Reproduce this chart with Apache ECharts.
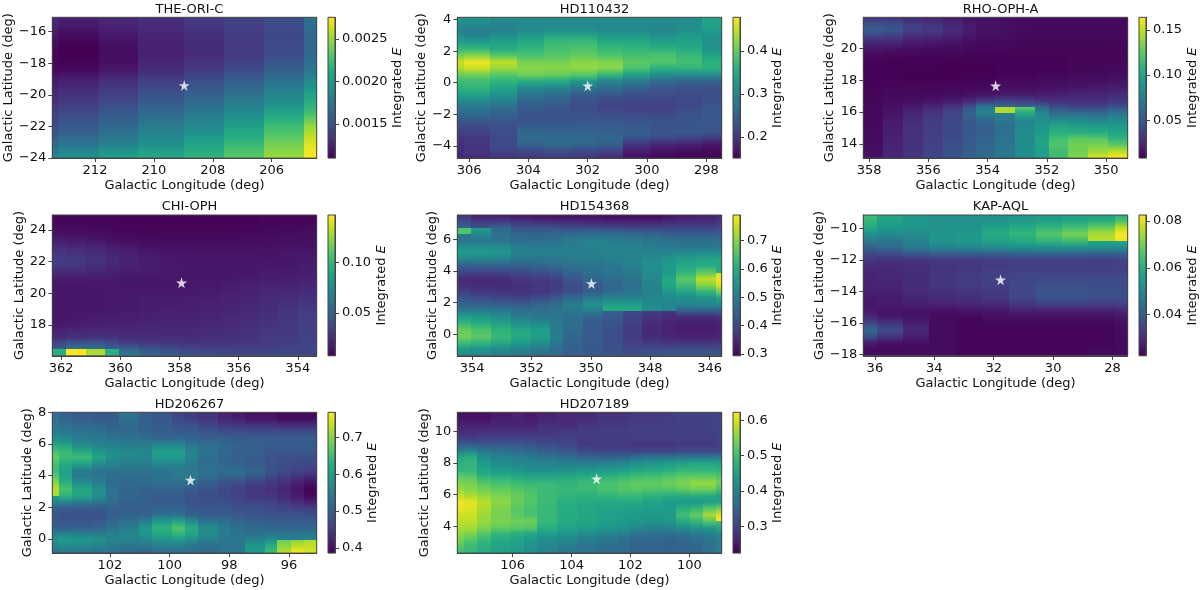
<!DOCTYPE html>
<html>
<head>
<meta charset="utf-8">
<style>html,body{margin:0;padding:0;background:#fff}#chart{width:1200px;height:590px}</style>
<script src="https://cdn.jsdelivr.net/npm/echarts@6/dist/echarts.min.js"></script>
</head>
<body>
<div id="chart"></div>
<script>
// Integrated E maps around eight stars. Rows run from the top latitude downward,
// columns from the left longitude (largest) to the right.
const theOriCLonEdges = [213.45,213.21,211.86,210.53,208.97,207.61,206.26,204.90,204.47];
const theOriCValues = [
[.00130,.00124,.00128,.00132,.00137,.00142,.00149,.00170],
[.00125,.00120,.00125,.00130,.00135,.00140,.00147,.00168],
[.00120,.00116,.00122,.00128,.00133,.00139,.00146,.00166],
[.00116,.00112,.00119,.00126,.00131,.00138,.00146,.00165],
[.00113,.00110,.00117,.00125,.00130,.00138,.00147,.00165],
[.00112,.00110,.00116,.00125,.00130,.00138,.00148,.00166],
[.00112,.00110,.00116,.00126,.00132,.00140,.00150,.00168],
[.00113,.00112,.00118,.00129,.00136,.00144,.00156,.00172],
[.00116,.00116,.00121,.00132,.00140,.00150,.00162,.00178],
[.00120,.00122,.00130,.00138,.00146,.00156,.00168,.00185],
[.00124,.00128,.00135,.00144,.00152,.00162,.00176,.00193],
[.00128,.00132,.00139,.00149,.00158,.00168,.00182,.00200],
[.00132,.00136,.00144,.00154,.00163,.00174,.00188,.00210],
[.00136,.00140,.00148,.00159,.00168,.00180,.00195,.00215],
[.00140,.00145,.00153,.00164,.00174,.00186,.00202,.00220],
[.00144,.00150,.00158,.00169,.00180,.00194,.00210,.00230],
[.00148,.00154,.00163,.00175,.00185,.00200,.00220,.00245],
[.00152,.00159,.00168,.00180,.00190,.00206,.00226,.00252],
[.00157,.00164,.00173,.00186,.00198,.00212,.00232,.00260],
[.00164,.00172,.00180,.00191,.00203,.00218,.00238,.00266],
[.00172,.00180,.00188,.00197,.00210,.00226,.00244,.00270],
[.00186,.00194,.00204,.00210,.00218,.00232,.00250,.00275]];

const hd110432LonEdges = [306.40,306.18,305.28,304.38,303.48,302.60,301.70,300.80,299.91,299.03,298.13,297.48];
const hd110432Values = [
[.32,.32,.31,.31,.31,.31,.31,.31,.31,.31,.34],
[.30,.30,.29,.30,.30,.30,.30,.30,.30,.31,.34],
[.29,.28,.29,.31,.32,.32,.31,.31,.30,.32,.32],
[.33,.32,.34,.35,.37,.37,.35,.35,.33,.34,.32],
[.35,.35,.34,.36,.375,.38,.36,.36,.35,.34,.31],
[.385,.385,.36,.37,.385,.39,.38,.37,.37,.36,.33],
[.44,.46,.43,.40,.40,.41,.40,.39,.40,.38,.35],
[.46,.478,.46,.42,.42,.43,.43,.40,.38,.38,.37],
[.42,.43,.40,.42,.42,.42,.41,.37,.34,.35,.35],
[.38,.38,.38,.39,.38,.36,.32,.30,.28,.27,.27],
[.37,.37,.35,.32,.32,.30,.28,.27,.25,.24,.235],
[.35,.36,.33,.29,.28,.26,.25,.235,.23,.225,.225],
[.32,.32,.31,.27,.26,.24,.235,.225,.225,.225,.23],
[.29,.29,.28,.25,.24,.225,.215,.215,.215,.22,.235],
[.27,.27,.26,.24,.235,.23,.215,.215,.215,.23,.24],
[.25,.26,.25,.235,.235,.235,.235,.23,.23,.235,.24],
[.23,.23,.23,.235,.235,.24,.24,.24,.235,.235,.24],
[.215,.22,.23,.255,.25,.25,.25,.245,.235,.24,.24],
[.205,.21,.225,.265,.26,.26,.255,.25,.24,.235,.225],
[.19,.195,.22,.26,.27,.265,.26,.21,.195,.185,.175],
[.20,.21,.23,.24,.245,.24,.235,.185,.175,.17,.165],
[.18,.19,.195,.20,.205,.20,.19,.165,.155,.151,.151]];

const rhoOphALonEdges = [358.20,357.52,356.85,356.19,355.52,354.84,354.40,353.74,353.06,352.39,351.94,351.27,350.60,349.94,349.27];
const rhoOphAValues = [
[.03,.03,.025,.022,.018,.015,.014,.014,.012,.012,.012,.012,.012,.012],
[.062,.058,.045,.04,.03,.022,.016,.015,.013,.012,.012,.012,.012,.012],
[.045,.04,.032,.03,.024,.018,.015,.014,.012,.011,.011,.011,.011,.011],
[.028,.028,.022,.02,.018,.015,.013,.012,.011,.011,.011,.011,.011,.011],
[.02,.018,.016,.015,.014,.012,.011,.011,.01,.01,.01,.01,.01,.01],
[.013,.012,.011,.011,.011,.01,.01,.01,.01,.01,.01,.01,.01,.01],
[.01,.009,.009,.009,.009,.009,.009,.009,.009,.009,.009,.01,.01,.01],
[.009,.009,.009,.009,.008,.008,.008,.009,.009,.009,.009,.01,.01,.011],
[.009,.009,.008,.008,.008,.008,.008,.009,.009,.01,.01,.011,.011,.012],
[.009,.009,.008,.008,.008,.009,.009,.01,.01,.011,.012,.013,.013,.014],
[.009,.01,.01,.01,.01,.01,.01,.012,.012,.013,.014,.015,.016,.017],
[.01,.011,.011,.011,.012,.012,.014,.016,.016,.017,.018,.02,.022,.023],
[.01,.012,.012,.013,.014,.016,.018,.02,.02,.022,.024,.026,.026,.03],
[.011,.014,.016,.02,.024,.034,.05,.06,.055,.04,.035,.03,.03,.035],
[.011,.016,.022,.03,.04,.06,.09,.145,.125,.08,.055,.05,.05,.06],
[.012,.018,.026,.034,.042,.055,.065,.075,.08,.08,.07,.075,.07,.075],
[.012,.02,.028,.036,.042,.05,.056,.065,.08,.09,.095,.09,.085,.09],
[.012,.02,.03,.036,.042,.05,.055,.065,.08,.09,.105,.1,.1,.095],
[.012,.022,.03,.037,.043,.05,.056,.066,.085,.095,.11,.115,.112,.105],
[.013,.022,.03,.037,.045,.052,.058,.068,.085,.10,.125,.135,.135,.115],
[.014,.023,.03,.038,.047,.054,.06,.07,.085,.095,.115,.125,.13,.135],
[.015,.025,.032,.04,.048,.055,.062,.07,.085,.095,.115,.135,.155,.164]];

const chiOphLonEdges = [362.30,361.85,361.17,360.51,360.03,359.36,358.69,358.02,357.34,356.67,356.00,355.32,354.65,353.98,353.36];
const chiOphValues = [
[.009,.009,.009,.009,.008,.008,.008,.008,.008,.008,.008,.009,.009,.009],
[.010,.010,.009,.009,.008,.008,.008,.008,.008,.008,.008,.009,.009,.010],
[.012,.012,.011,.010,.009,.009,.009,.009,.009,.009,.010,.010,.011,.012],
[.016,.015,.014,.012,.011,.010,.010,.010,.010,.010,.011,.012,.012,.013],
[.022,.020,.018,.016,.014,.013,.012,.012,.012,.012,.012,.013,.014,.014],
[.028,.026,.024,.020,.018,.016,.014,.014,.014,.014,.014,.014,.015,.015],
[.032,.030,.028,.024,.021,.018,.016,.016,.015,.015,.015,.015,.016,.016],
[.032,.031,.028,.024,.021,.019,.017,.016,.016,.016,.016,.016,.016,.017],
[.027,.026,.024,.021,.019,.018,.017,.017,.016,.016,.016,.017,.017,.018],
[.020,.020,.019,.018,.017,.017,.016,.016,.016,.016,.017,.018,.018,.019],
[.016,.016,.016,.016,.016,.016,.016,.016,.016,.017,.018,.019,.020,.021],
[.016,.016,.016,.016,.016,.016,.016,.016,.017,.018,.020,.022,.022,.024],
[.017,.017,.017,.017,.017,.017,.017,.018,.018,.019,.021,.023,.024,.026],
[.016,.016,.016,.017,.017,.018,.018,.019,.019,.020,.022,.024,.026,.028],
[.015,.016,.016,.017,.017,.018,.019,.019,.020,.021,.023,.025,.028,.030],
[.015,.016,.017,.017,.018,.019,.020,.020,.021,.022,.024,.026,.029,.032],
[.016,.017,.018,.019,.019,.020,.021,.021,.022,.023,.025,.027,.030,.033],
[.018,.019,.020,.021,.021,.022,.022,.022,.023,.024,.026,.028,.030,.033],
[.022,.024,.025,.025,.024,.024,.024,.024,.025,.026,.028,.030,.031,.034],
[.026,.028,.028,.027,.026,.026,.026,.026,.026,.027,.029,.031,.032,.034],
[.048,.060,.060,.050,.038,.034,.031,.030,.030,.030,.031,.032,.033,.035],
[.095,.147,.130,.095,.065,.055,.050,.043,.040,.038,.037,.037,.037,.037]];

const hd154368LonEdges = [354.50,354.05,353.38,352.70,352.03,351.38,350.93,350.26,349.58,348.91,348.26,347.59,347.14,346.46,345.79,345.59];
const hd154368Values = [
[.36,.33,.33,.32,.31,.31,.31,.31,.30,.30,.30,.32,.33,.34,.36],
[.45,.42,.42,.40,.40,.39,.38,.37,.37,.37,.37,.37,.37,.37,.38],
[.65,.58,.49,.44,.44,.44,.44,.44,.44,.43,.43,.42,.42,.42,.42],
[.48,.47,.46,.46,.46,.47,.49,.50,.50,.49,.47,.46,.46,.46,.46],
[.50,.50,.50,.49,.48,.49,.50,.52,.51,.51,.50,.49,.48,.48,.49],
[.58,.58,.57,.52,.51,.51,.51,.51,.51,.51,.50,.50,.50,.50,.50],
[.56,.55,.54,.50,.50,.50,.50,.50,.51,.51,.52,.54,.56,.57,.58],
[.46,.47,.47,.47,.47,.48,.49,.49,.50,.52,.55,.57,.59,.60,.59],
[.42,.42,.42,.42,.43,.44,.46,.47,.48,.50,.53,.55,.59,.60,.60],
[.36,.35,.36,.38,.39,.40,.44,.47,.48,.49,.53,.58,.65,.74,.76],
[.35,.35,.35,.36,.37,.38,.41,.44,.46,.48,.52,.60,.67,.74,.789],
[.37,.36,.36,.36,.37,.38,.41,.43,.45,.47,.51,.57,.60,.66,.73],
[.41,.39,.38,.37,.38,.40,.42,.45,.48,.49,.52,.54,.56,.57,.62],
[.44,.43,.42,.42,.44,.46,.50,.54,.55,.55,.52,.52,.52,.53,.54],
[.47,.47,.47,.46,.47,.48,.51,.55,.60,.59,.54,.52,.51,.51,.51],
[.54,.54,.52,.49,.48,.48,.47,.45,.44,.40,.38,.37,.37,.37,.37],
[.60,.58,.56,.52,.50,.49,.47,.44,.42,.39,.36,.34,.34,.34,.35],
[.65,.63,.60,.57,.56,.50,.47,.44,.42,.38,.35,.34,.33,.33,.34],
[.70,.67,.63,.60,.58,.50,.46,.43,.41,.38,.35,.34,.33,.33,.34],
[.66,.65,.62,.59,.56,.50,.45,.43,.41,.38,.36,.35,.35,.35,.35],
[.60,.58,.56,.54,.52,.48,.45,.43,.41,.39,.39,.39,.39,.39,.39],
[.53,.52,.50,.49,.47,.46,.44,.43,.42,.41,.42,.43,.43,.43,.42]];

const kapAqlLonEdges = [36.39,35.94,35.06,34.17,33.27,32.38,31.48,30.59,29.70,28.82,27.92,27.49];
const kapAqlValues = [
[.064,.058,.055,.053,.053,.053,.054,.055,.056,.057,.060],
[.060,.056,.054,.053,.053,.054,.056,.058,.060,.063,.071],
[.056,.054,.053,.053,.054,.059,.062,.066,.069,.074,.0826],
[.050,.048,.050,.054,.056,.059,.062,.067,.071,.076,.081],
[.044,.044,.048,.052,.053,.054,.055,.056,.056,.057,.058],
[.038,.042,.046,.048,.048,.049,.050,.050,.050,.050,.048],
[.033,.032,.033,.034,.034,.034,.035,.035,.035,.034,.035],
[.031,.030,.030,.031,.031,.032,.033,.033,.033,.033,.034],
[.029,.029,.030,.031,.032,.033,.034,.034,.034,.034,.034],
[.028,.029,.030,.032,.033,.034,.035,.035,.035,.035,.035],
[.028,.029,.030,.032,.033,.034,.035,.036,.036,.036,.036],
[.028,.028,.030,.031,.032,.033,.036,.038,.038,.037,.037],
[.027,.027,.029,.030,.031,.032,.035,.038,.038,.037,.037],
[.026,.027,.028,.029,.030,.031,.034,.037,.037,.036,.036],
[.026,.026,.026,.026,.027,.027,.029,.029,.029,.029,.030],
[.027,.025,.025,.024,.024,.025,.026,.026,.026,.026,.027],
[.031,.028,.026,.024,.023,.024,.024,.024,.024,.024,.025],
[.041,.036,.029,.024,.023,.023,.023,.023,.023,.023,.024],
[.043,.036,.029,.024,.023,.023,.023,.023,.023,.023,.024],
[.030,.026,.025,.024,.023,.023,.023,.023,.023,.023,.024],
[.024,.024,.024,.024,.023,.023,.023,.023,.023,.023,.024],
[.024,.024,.024,.024,.023,.023,.023,.023,.023,.024,.024]];

const hd206267LonEdges = [103.93,103.71,103.26,102.59,102.14,101.71,101.04,100.59,99.92,99.48,99.05,98.38,97.93,97.48,96.81,96.39,95.94,95.49,95.07];
const hd206267Values = [
[.53,.50,.49,.49,.49,.53,.50,.49,.46,.45,.44,.42,.41,.40,.40,.39,.39,.39],
[.53,.52,.51,.50,.50,.52,.50,.49,.48,.47,.45,.43,.43,.42,.42,.41,.41,.41],
[.54,.53,.52,.52,.51,.51,.50,.50,.49,.49,.48,.47,.46,.46,.46,.46,.46,.46],
[.56,.55,.53,.53,.52,.52,.51,.50,.50,.50,.49,.49,.49,.49,.49,.49,.49,.49],
[.58,.58,.56,.55,.54,.53,.53,.52,.52,.51,.51,.51,.50,.50,.50,.50,.50,.50],
[.63,.62,.57,.55,.56,.56,.56,.59,.59,.55,.53,.52,.51,.50,.49,.49,.49,.49],
[.68,.66,.65,.62,.58,.57,.56,.61,.61,.56,.53,.51,.50,.50,.49,.49,.49,.49],
[.67,.63,.64,.60,.57,.56,.56,.58,.58,.55,.52,.51,.50,.49,.48,.47,.47,.47],
[.64,.61,.57,.54,.54,.54,.54,.54,.54,.53,.52,.51,.51,.50,.49,.48,.47,.47],
[.65,.60,.53,.52,.52,.52,.52,.53,.54,.54,.53,.53,.53,.52,.48,.47,.46,.45],
[.68,.61,.55,.54,.52,.52,.52,.53,.54,.54,.51,.49,.49,.47,.46,.44,.43,.42],
[.73,.65,.59,.56,.52,.51,.51,.51,.51,.50,.49,.47,.46,.45,.44,.43,.41,.39],
[.72,.66,.64,.59,.53,.51,.50,.50,.50,.49,.48,.47,.46,.45,.44,.42,.41,.39],
[.60,.60,.58,.56,.53,.51,.50,.49,.49,.48,.47,.47,.46,.45,.45,.44,.42,.40],
[.52,.52,.51,.51,.51,.50,.50,.50,.50,.49,.49,.49,.48,.48,.47,.46,.45,.44],
[.49,.48,.48,.48,.50,.50,.50,.51,.51,.49,.49,.49,.48,.48,.47,.47,.47,.47],
[.49,.48,.48,.48,.50,.51,.51,.55,.55,.52,.50,.50,.50,.49,.49,.49,.49,.49],
[.49,.49,.49,.50,.52,.54,.58,.63,.66,.62,.56,.54,.52,.51,.50,.50,.50,.50],
[.52,.52,.52,.52,.54,.56,.60,.63,.66,.62,.58,.55,.53,.52,.52,.52,.52,.52],
[.58,.59,.58,.57,.56,.56,.57,.60,.61,.60,.56,.54,.53,.53,.54,.55,.55,.56],
[.58,.60,.60,.58,.56,.55,.55,.56,.57,.54,.54,.53,.54,.59,.61,.68,.70,.72],
[.52,.53,.52,.52,.52,.51,.51,.52,.52,.52,.51,.53,.53,.59,.65,.73,.768,.75]];

const hd207189LonEdges = [107.88,107.65,107.20,106.75,106.07,105.62,105.17,104.51,103.83,103.15,102.47,102.02,101.57,100.89,100.44,99.98,99.55,99.10,98.90];
const hd207189Values = [
[.24,.24,.24,.25,.26,.25,.26,.27,.27,.28,.28,.29,.29,.29,.30,.30,.30,.30],
[.25,.25,.25,.26,.26,.26,.27,.27,.28,.29,.29,.29,.29,.30,.30,.30,.30,.31],
[.27,.27,.27,.27,.27,.27,.28,.28,.29,.29,.29,.30,.30,.30,.30,.30,.30,.30],
[.28,.28,.29,.29,.29,.29,.29,.30,.30,.30,.30,.30,.30,.30,.30,.30,.30,.31],
[.31,.31,.31,.31,.31,.31,.31,.30,.29,.29,.29,.29,.29,.29,.29,.29,.29,.30],
[.36,.36,.35,.35,.35,.34,.32,.31,.29,.29,.29,.28,.28,.28,.29,.29,.29,.29],
[.43,.45,.41,.39,.38,.37,.36,.35,.33,.32,.32,.33,.33,.33,.33,.33,.33,.33],
[.49,.50,.43,.41,.40,.40,.39,.38,.37,.38,.38,.40,.41,.42,.43,.43,.43,.43],
[.47,.47,.45,.43,.42,.41,.41,.41,.41,.42,.43,.44,.45,.46,.47,.48,.48,.47],
[.50,.50,.46,.45,.44,.43,.43,.44,.45,.45,.46,.47,.48,.49,.50,.49,.49,.49],
[.54,.53,.50,.49,.48,.48,.48,.48,.49,.50,.51,.52,.52,.53,.54,.55,.55,.53],
[.55,.55,.53,.52,.51,.50,.50,.49,.50,.51,.52,.53,.53,.54,.55,.57,.57,.54],
[.57,.55,.54,.53,.52,.51,.49,.49,.49,.50,.51,.51,.50,.49,.50,.50,.50,.47],
[.61,.60,.58,.56,.54,.52,.50,.48,.47,.47,.47,.47,.46,.45,.44,.44,.43,.42],
[.62,.61,.58,.55,.52,.51,.49,.47,.46,.46,.46,.46,.45,.44,.44,.44,.46,.48],
[.60,.60,.57,.54,.52,.50,.49,.47,.46,.45,.45,.44,.44,.44,.50,.53,.57,.58],
[.59,.59,.56,.54,.52,.51,.49,.47,.46,.45,.44,.44,.44,.45,.50,.52,.57,.623],
[.58,.58,.56,.55,.55,.56,.49,.47,.46,.45,.44,.43,.42,.42,.44,.46,.47,.50],
[.56,.56,.53,.50,.49,.47,.46,.44,.43,.42,.41,.39,.38,.38,.39,.40,.41,.42],
[.55,.53,.50,.47,.46,.45,.43,.42,.40,.39,.37,.36,.36,.35,.36,.37,.38,.39],
[.53,.50,.48,.46,.45,.43,.41,.40,.38,.37,.36,.35,.35,.35,.35,.36,.37,.39],
[.50,.49,.47,.45,.44,.42,.40,.38,.37,.36,.36,.35,.35,.35,.35,.35,.37,.40]];

const axisFont = 'DejaVu Sans';
const fontPx = 13;
const viridisStops = ['#440154','#482173','#433e85','#38588c','#2d708e','#25858e','#1e9b8a','#2ab07f','#51c56a','#85d54a','#c2df23','#fde725'];

const panels = [
 {title:'THE-ORI-C', left:52.3, top:17.3, lonEdges:theOriCLonEdges, latRange:[-15.09,-24], values:theOriCValues, star:[208.97,-19.4],
  lonTicks:[212,210,208,206], latTicks:[-16,-18,-20,-22,-24], barRange:[.0011,.002755], barTicks:[.0015,.002,.0025], barDigits:4, latGap:36, barGap:54},
 {title:'HD110432', left:457.3, top:17.3, lonEdges:hd110432LonEdges, latRange:[4.15,-4.78], values:hd110432Values, star:[302.0,-.19],
  lonTicks:[306,304,302,300,298], latTicks:[-4,-2,0,2,4], barRange:[.151,.478], barTicks:[.2,.3,.4], barDigits:1, latGap:29, barGap:30},
 {title:'RHO-OPH-A', left:863.3, top:17.3, lonEdges:rhoOphALonEdges, latRange:[21.98,13.1], values:rhoOphAValues, star:[353.73,17.66],
  lonTicks:[358,356,354,352,350], latTicks:[14,16,18,20], barRange:[.008,.164], barTicks:[.05,.1,.15], barDigits:2, latGap:27, barGap:38},
 {title:'CHI-OPH', left:52.3, top:215, lonEdges:chiOphLonEdges, latRange:[24.95,16.06], values:chiOphValues, star:[357.93,20.67],
  lonTicks:[362,360,358,356,354], latTicks:[18,20,22,24], barRange:[.0073,.147], barTicks:[.05,.1], barDigits:2, latGap:26, barGap:38},
 {title:'HD154368', left:457.3, top:215, lonEdges:hd154368LonEdges, latRange:[7.54,-1.35], values:hd154368Values, star:[349.98,3.22],
  lonTicks:[354,352,350,348,346], latTicks:[0,2,4,6], barRange:[.294,.789], barTicks:[.3,.4,.5,.6,.7], barDigits:1, latGap:18, barGap:30},
 {title:'KAP-AQL', left:863.3, top:215, lonEdges:kapAqlLonEdges, latRange:[-9.16,-18.09], values:kapAqlValues, star:[31.77,-13.27],
  lonTicks:[36,34,32,30,28], latTicks:[-10,-12,-14,-16,-18], barRange:[.0223,.0826], barTicks:[.04,.06,.08], barDigits:2, latGap:37, barGap:38},
 {title:'HD206267', left:52.3, top:412.3, lonEdges:hd206267LonEdges, latRange:[8,-.9], values:hd206267Values, star:[99.3,3.72],
  lonTicks:[102,100,98,96], latTicks:[0,2,4,6,8], barRange:[.386,.768], barTicks:[.4,.5,.6,.7], barDigits:1, latGap:18, barGap:30},
 {title:'HD207189', left:457.3, top:412.3, lonEdges:hd207189LonEdges, latRange:[11.2,2.31], values:hd207189Values, star:[103.15,7.0],
  lonTicks:[106,104,102,100], latTicks:[4,6,8,10], barRange:[.224,.623], barTicks:[.3,.4,.5,.6], barDigits:1, latGap:26, barGap:30}
];

const plotWidth = 264.4, plotHeight = 140.8, barOffset = 275.7, barWidth = 7;
// Neighbouring rows closer than this share of the colour range blend into each other.
const blendLimit = 0.3;

function hexToRgb(h){ return [1,3,5].map(i => parseInt(h.slice(i,i+2),16)); }
function viridis(t){
  const u = Math.min(1, Math.max(0, t)) * (viridisStops.length - 1);
  const i = Math.min(Math.floor(u), viridisStops.length - 2), f = u - i;
  const a = hexToRgb(viridisStops[i]), b = hexToRgb(viridisStops[i+1]);
  return 'rgb(' + a.map((c,k) => Math.round(c + (b[k]-c)*f)).join(',') + ')';
}
const ink = '#111', spine = '#444';
const textStyle = {fontFamily:axisFont, fontSize:fontPx, color:ink};
const inkAxis = {
  axisLine:{show:true, onZero:false, lineStyle:{color:spine, width:1}},
  axisTick:{show:true, length:4, lineStyle:{color:spine, width:1}},
  splitLine:{show:false}
};
function minusSign(v){ return String(v).replace('-', '\u2212'); }

const frameRect = (a,b) => ({x:Math.min(a[0],b[0]), y:Math.min(a[1],b[1]), width:Math.abs(b[0]-a[0]), height:Math.abs(b[1]-a[1])});

const option = {animation:false, backgroundColor:'#fff', title:[], grid:[], xAxis:[], yAxis:[], series:[]};

panels.forEach((p, n) => {
  const rows = p.values.length;
  const latStep = (p.latRange[1] - p.latRange[0]) / rows;
  const [lo, hi] = p.barRange;
  const edgeValue = (v, other) => (other !== undefined && Math.abs(other - v) < blendLimit*(hi-lo)) ? (v + other)/2 : v;
  const cells = [];
  p.values.forEach((row, r) => row.forEach((v, c) => {
    const above = r > 0 ? p.values[r-1][c] : undefined;
    const below = r < rows-1 ? p.values[r+1][c] : undefined;
    cells.push([p.lonEdges[c], p.lonEdges[c+1], p.latRange[0] + r*latStep, p.latRange[0] + (r+1)*latStep, edgeValue(v, above), edgeValue(v, below)]);
  }));
  const lons = [p.lonEdges[0], p.lonEdges[p.lonEdges.length-1]];

  option.title.push({text:p.title, left:p.left + plotWidth/2, top:p.top - 19.5, textAlign:'center',
    textStyle:{fontFamily:axisFont, fontSize:fontPx, fontWeight:'normal', color:ink}});

  // Map grid
  option.grid.push({left:p.left, top:p.top, width:plotWidth, height:plotHeight});
  option.xAxis.push(Object.assign({}, inkAxis, {type:'value', gridIndex:2*n, inverse:true, min:lons[1], max:lons[0], position:'bottom',
    name:'Galactic Longitude (deg)', nameLocation:'middle', nameGap:21, nameTextStyle:textStyle,
    axisTick:Object.assign({}, inkAxis.axisTick, {customValues:p.lonTicks}),
    axisLabel:{customValues:p.lonTicks, margin:6, fontFamily:axisFont, fontSize:fontPx, color:ink, formatter:v => String(v)}}));
  option.yAxis.push(Object.assign({}, inkAxis, {type:'value', gridIndex:2*n, min:p.latRange[1], max:p.latRange[0], position:'left',
    name:'Galactic Latitude (deg)', nameLocation:'middle', nameGap:p.latGap, nameRotate:90, nameTextStyle:textStyle,
    axisTick:Object.assign({}, inkAxis.axisTick, {customValues:p.latTicks}),
    axisLabel:{customValues:p.latTicks, margin:6, fontFamily:axisFont, fontSize:fontPx, color:ink, formatter:minusSign}}));

  // Colour bar grid
  option.grid.push({left:p.left + barOffset, top:p.top, width:barWidth, height:plotHeight});
  option.xAxis.push({type:'value', gridIndex:2*n+1, min:0, max:1, show:false});
  option.yAxis.push(Object.assign({}, inkAxis, {type:'value', gridIndex:2*n+1, min:lo, max:hi, position:'right',
    name:'Integrated {i|E}', nameLocation:'middle', nameGap:p.barGap, nameRotate:90,
    nameTextStyle:Object.assign({}, textStyle, {rich:{i:{fontFamily:axisFont, fontSize:fontPx, fontStyle:'italic', color:ink}}}),
    axisTick:Object.assign({}, inkAxis.axisTick, {customValues:p.barTicks}),
    axisLabel:{customValues:p.barTicks, margin:7, fontFamily:axisFont, fontSize:fontPx, color:ink, formatter:v => v.toFixed(p.barDigits)}}));

  option.series.push({
    type:'custom', xAxisIndex:2*n, yAxisIndex:2*n, silent:true, z:2, clip:true, data:cells,
    encode:{x:[0,1], y:[2,3]},
    renderItem(params, api){
      const a = api.coord([api.value(0), api.value(2)]);
      const b = api.coord([api.value(1), api.value(3)]);
      const x0 = Math.round(a[0]), x1 = Math.round(b[0]), y0 = Math.round(a[1]), y1 = Math.round(b[1]);
      const fill = new echarts.graphic.LinearGradient(0,0,0,1,[
        {offset:0, color:viridis((api.value(4)-lo)/(hi-lo))},
        {offset:1, color:viridis((api.value(5)-lo)/(hi-lo))}]);
      return {type:'rect', shape:{x:x0, y:y0, width:x1-x0, height:y1-y0}, style:{fill}};
    }
  });
  option.series.push({
    type:'scatter', xAxisIndex:2*n, yAxisIndex:2*n, silent:true, z:5, data:[p.star],
    symbol:'path://M50 0 L61 35 L98 35 L68 57 L79 91 L50 70 L21 91 L32 57 L2 35 L39 35 Z',
    symbolSize:11, itemStyle:{color:'#fff'}
  });
  option.series.push({
    type:'custom', xAxisIndex:2*n, yAxisIndex:2*n, silent:true, z:4, clip:false, data:[[lons[0], lons[1], p.latRange[0], p.latRange[1]]],
    encode:{x:[0,1], y:[2,3]},
    renderItem(params, api){
      return {type:'rect', shape:frameRect(api.coord([api.value(0),api.value(2)]), api.coord([api.value(1),api.value(3)])),
        style:{fill:'none', stroke:spine, lineWidth:1}};
    }
  });
  option.series.push({
    type:'custom', xAxisIndex:2*n+1, yAxisIndex:2*n+1, silent:true, z:2, clip:false, data:[[0,1,hi,lo]],
    encode:{x:[0,1], y:[2,3]},
    renderItem(params, api){
      const stops = viridisStops.map((c,i) => ({offset:1 - i/(viridisStops.length-1), color:c})).reverse();
      return {type:'rect', shape:frameRect(api.coord([api.value(0),api.value(2)]), api.coord([api.value(1),api.value(3)])),
        style:{fill:new echarts.graphic.LinearGradient(0,0,0,1,stops), stroke:spine, lineWidth:1}};
    }
  });
});

echarts.init(document.getElementById('chart'), null, {renderer:'canvas'}).setOption(option);
</script>
</body>
</html>
